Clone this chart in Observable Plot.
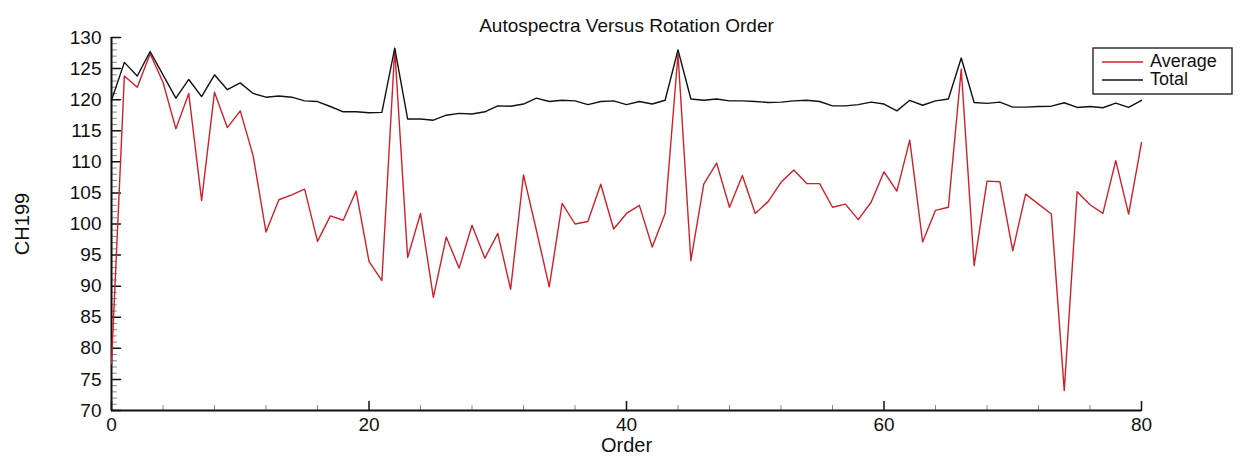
<!DOCTYPE html>
<html>
<head>
<meta charset="utf-8">
<script src="https://cdn.jsdelivr.net/npm/d3@7"></script>
<script src="https://cdn.jsdelivr.net/npm/@observablehq/plot@0.6"></script>
<style>
  html, body { margin: 0; padding: 0; background: #fff; }
  #chart svg { display: block; }
</style>
</head>
<body>
<div id="chart"></div>
<script>
// ---- data ----
const average = [
  77.5, 123.8, 122.0, 127.4, 122.8, 115.3, 121.0, 103.8, 121.2, 115.5,
  118.2, 111.0, 98.7, 103.9, 104.7, 105.6, 97.2, 101.3, 100.6, 105.3,
  94.0, 90.9, 128.1, 94.6, 101.7, 88.2, 97.9, 92.9, 99.8, 94.5,
  98.5, 89.5, 107.9, 99.0, 89.9, 103.3, 100.0, 100.4, 106.4, 99.2,
  101.7, 103.0, 96.3, 101.7, 127.3, 94.1, 106.4, 109.8, 102.7, 107.8,
  101.7, 103.6, 106.7, 108.7, 106.5, 106.5, 102.7, 103.2, 100.7, 103.5,
  108.4, 105.3, 113.5, 97.1, 102.2, 102.7, 124.9, 93.3, 106.9, 106.8,
  95.7, 104.8, 103.2, 101.6, 73.2, 105.2, 103.1, 101.7, 110.2, 101.6,
  113.1
];
const total = [
  119.9, 126.0, 123.8, 127.75, 124.0, 120.25, 123.25, 120.5, 124.0, 121.6,
  122.7, 121.0, 120.4, 120.6, 120.4, 119.8, 119.7, 118.9, 118.05, 118.05,
  117.9, 117.95, 128.3, 116.9, 116.9, 116.7, 117.5, 117.8, 117.7, 118.05,
  119.0, 118.95, 119.3, 120.25, 119.7, 119.9, 119.8, 119.2, 119.7, 119.8,
  119.2, 119.7, 119.3, 119.9, 128.0, 120.1, 119.9, 120.1, 119.8, 119.8,
  119.7, 119.55, 119.6, 119.8, 119.9, 119.7, 119.0, 119.0, 119.2, 119.6,
  119.3, 118.2, 119.9, 119.1, 119.8, 120.1, 126.7, 119.55, 119.4, 119.6,
  118.8, 118.8, 118.9, 118.95, 119.5, 118.75, 118.9, 118.7, 119.45, 118.75,
  119.9
];
const seriesNames = ["Average", "Total"];
const seriesColors = ["#d0202a", "#111111"];
const xTicksMajor = [0, 20, 40, 60, 80];
const xTicksMinor = [4, 8, 12, 16, 24, 28, 32, 36, 44, 48, 52, 56, 64, 68, 72, 76];
const yTicksMajor = [70, 75, 80, 85, 90, 95, 100, 105, 110, 115, 120, 125, 130];
const yTicksMinor = [71,72,73,74,76,77,78,79,81,82,83,84,86,87,88,89,91,92,93,94,96,97,98,99,101,102,103,104,106,107,108,109,111,112,113,114,116,117,118,119,121,122,123,124,126,127,128,129];
const titleText = "Autospectra Versus Rotation Order";
const xLabel = "Order";
const yLabel = "CH199";

// ---- table ----
const rows = [];
average.forEach((v, i) => rows.push({order: i, value: v, series: seriesNames[0]}));
total.forEach((v, i) => rows.push({order: i, value: v, series: seriesNames[1]}));

const FONT = "'Liberation Sans', Arial, sans-serif";
// straight tick shape for vector marks (drawn upward, then rotated)
const tickShape = {draw(context, l) { context.moveTo(0, 0); context.lineTo(0, -l); }};

const chart = Plot.plot({
  width: 1244,
  height: 467,
  marginLeft: 111,
  marginRight: 103,
  marginTop: 37,
  marginBottom: 57,
  style: {fontFamily: FONT, color: "#111", background: "#fff"},
  x: {domain: [0, 80]},
  y: {domain: [70, 130]},
  color: {domain: seriesNames, range: seriesColors},
  marks: [
    // tick labels
    Plot.axisY({ticks: yTicksMajor, tickSize: 0, tickPadding: 10, fontSize: 19, label: null}),
    Plot.axisX({ticks: xTicksMajor, tickSize: 0, tickPadding: 7, fontSize: 19, label: null}),
    // inward ticks
    Plot.vector(yTicksMajor, {y: d => d, frameAnchor: "left", rotate: 90, length: 9, anchor: "start", shape: tickShape, stroke: "#111", strokeWidth: 1.5}),
    Plot.vector(yTicksMinor, {y: d => d, frameAnchor: "left", rotate: 90, length: 5, anchor: "start", shape: tickShape, stroke: "#888", strokeWidth: 1}),
    Plot.vector(xTicksMajor, {x: d => d, frameAnchor: "bottom", rotate: 0, length: 9, anchor: "start", shape: tickShape, stroke: "#111", strokeWidth: 1.5}),
    Plot.vector(xTicksMinor, {x: d => d, frameAnchor: "bottom", rotate: 0, length: 5, anchor: "start", shape: tickShape, stroke: "#888", strokeWidth: 1}),
    // axis lines
    Plot.ruleX([0], {stroke: "#111", strokeWidth: 2}),
    Plot.ruleY([70], {stroke: "#111", strokeWidth: 2}),
    // data
    Plot.lineY(rows, {x: "order", y: "value", z: "series", stroke: "series", strokeWidth: 1.4}),
    // texts
    Plot.text([titleText], {frameAnchor: "top", dy: -19, fontSize: 19, fill: "#111"}),
    Plot.text([xLabel], {frameAnchor: "bottom", dy: 41, fontSize: 20, fill: "#111"}),
    Plot.text([yLabel], {frameAnchor: "left", dx: -89, rotate: -90, textAnchor: "middle", fontSize: 20, fill: "#111"})
  ]
});

// legend box
const svg = d3.select(chart);
const lg = svg.append("g").attr("font-family", FONT).attr("font-size", 18).attr("text-anchor", "start");
lg.append("rect").attr("x", 1093).attr("y", 48).attr("width", 139).attr("height", 46)
  .attr("fill", "#fff").attr("stroke", "#333").attr("stroke-width", 1.5);
seriesNames.forEach((name, i) => {
  const yy = 62 + i * 18;
  lg.append("line").attr("x1", 1102).attr("x2", 1143).attr("y1", yy).attr("y2", yy)
    .attr("stroke", seriesColors[i]).attr("stroke-width", 1.4);
  lg.append("text").attr("x", 1150).attr("y", yy + 4.5).attr("fill", "#111").text(name);
});

document.getElementById("chart").appendChild(chart);
</script>
</body>
</html>
